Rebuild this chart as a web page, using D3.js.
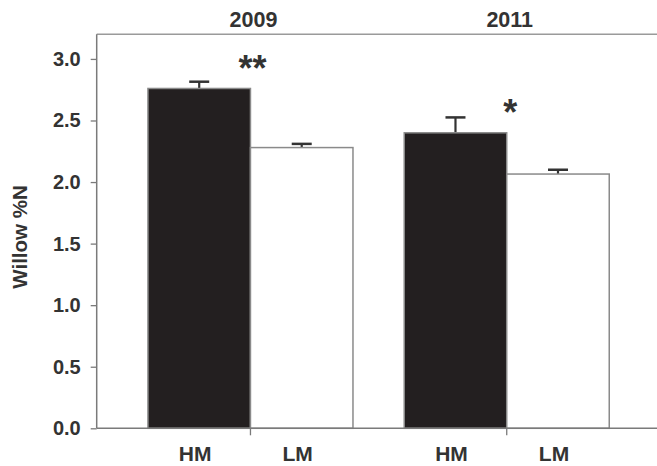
<!DOCTYPE html>
<html>
<head>
<meta charset="utf-8">
<script src="https://cdn.jsdelivr.net/npm/d3@7"></script>
<style>
  html, body { margin: 0; padding: 0; background: #fff; }
  svg { display: block; }
  text { font-family: "Liberation Sans", Arial, sans-serif; font-weight: bold; fill: #333; }
</style>
</head>
<body>
<svg id="chart" width="657" height="466"></svg>
<script>
const years = ["2009", "2011"];
const treatments = ["HM", "LM"];
const hmValues = [2.76, 2.40];
const hmErrors = [0.055, 0.125];
const lmValues = [2.28, 2.065];
const lmErrors = [0.03, 0.035];
const yTicks = [0, 0.5, 1.0, 1.5, 2.0, 2.5, 3.0];
const signif = ["**", "*"];
const signifLevel = [2.82, 2.46];
const yLabel = "Willow %N";

const svg = d3.select("#chart");
const plotLeft = 96.7, plotRight = 660.5, plotTop = 34.3, plotBottom = 428.3;

const y = d3.scaleLinear().domain([0, 3.2]).range([plotBottom, plotTop]);
const x0 = d3.scaleBand().domain(years).range([plotLeft, plotRight]).paddingInner(0.2).paddingOuter(0.2);
const x1 = d3.scaleBand().domain(treatments).range([0, x0.bandwidth()]).padding(0);

const data = [];
years.forEach((yr, i) => {
  data.push({year: yr, t: "HM", v: hmValues[i], e: hmErrors[i]});
  data.push({year: yr, t: "LM", v: lmValues[i], e: lmErrors[i]});
});

// top frame line
svg.append("line")
  .attr("x1", plotLeft).attr("x2", 657).attr("y1", plotTop).attr("y2", plotTop)
  .attr("stroke", "#9a9a9a").attr("stroke-width", 1.5);

// error bars (upper only)
const eb = svg.append("g");
data.forEach(d => {
  const cx = x0(d.year) + x1(d.t) + x1.bandwidth() / 2;
  eb.append("line").attr("x1", cx).attr("x2", cx)
    .attr("y1", y(d.v)).attr("y2", y(d.v + d.e))
    .attr("stroke", "#333").attr("stroke-width", 2.2);
  eb.append("line").attr("x1", cx - 10).attr("x2", cx + 10)
    .attr("y1", y(d.v + d.e)).attr("y2", y(d.v + d.e))
    .attr("stroke", "#333").attr("stroke-width", 2.5);
});

// bars
svg.append("g").selectAll("rect").data(data).join("rect")
  .attr("x", d => x0(d.year) + x1(d.t))
  .attr("y", d => y(d.v))
  .attr("width", x1.bandwidth())
  .attr("height", d => y(0) - y(d.v))
  .attr("fill", d => d.t === "HM" ? "#231f20" : "#ffffff")
  .attr("stroke", "#8a8a8a").attr("stroke-width", 1.5);

// y axis
const yAxis = d3.axisLeft(y).tickValues(yTicks).tickFormat(d3.format(".1f")).tickSize(6).tickPadding(10);
const gy = svg.append("g").attr("transform", `translate(${plotLeft},0)`).call(yAxis);
gy.select(".domain").attr("stroke", "#7a7a7a").attr("stroke-width", 1.5).attr("d", `M0,${plotBottom}V${plotTop}`);
gy.selectAll(".tick line").attr("stroke", "#7a7a7a").attr("stroke-width", 1.3);
gy.selectAll(".tick text").style("font-size", "20px").style("font-family", "Liberation Sans, Arial, sans-serif").style("font-weight", "bold").attr("fill", "#333");

// x axis
const xTickPos = years.map(yr => x0(yr) + x0.bandwidth() / 2);
const gx = svg.append("g");
gx.append("line").attr("x1", plotLeft).attr("x2", 657).attr("y1", plotBottom).attr("y2", plotBottom)
  .attr("stroke", "#7a7a7a").attr("stroke-width", 1.5);
gx.selectAll("line.tk").data(xTickPos).join("line").attr("class", "tk")
  .attr("x1", d => d).attr("x2", d => d).attr("y1", plotBottom).attr("y2", plotBottom + 7)
  .attr("stroke", "#7a7a7a").attr("stroke-width", 1.3);

// category labels
svg.append("g").selectAll("text").data(data).join("text")
  .attr("x", d => x0(d.year) + x1(d.t) + x1.bandwidth() / 2 - 4)
  .attr("y", 461)
  .attr("text-anchor", "middle")
  .style("font-size", "21px")
  .text(d => d.t);

// year titles
svg.append("g").selectAll("text").data(years).join("text")
  .attr("x", d => x0(d) + x0.bandwidth() / 2 + 3)
  .attr("y", 27)
  .attr("text-anchor", "middle")
  .style("font-size", "21.5px")
  .text(d => d);

// significance
svg.append("g").selectAll("text").data(years).join("text")
  .attr("x", (d, i) => x0(d) + x0.bandwidth() / 2 + (i === 0 ? 2 : 3.5))
  .attr("y", (d, i) => y(signifLevel[i]))
  .attr("text-anchor", "middle")
  .style("font-size", "36px")
  .text((d, i) => signif[i]);

// y label
svg.append("text")
  .attr("transform", "translate(27,237) rotate(-90)")
  .attr("text-anchor", "middle")
  .style("font-size", "20.5px")
  .text(yLabel);
</script>
</body>
</html>
